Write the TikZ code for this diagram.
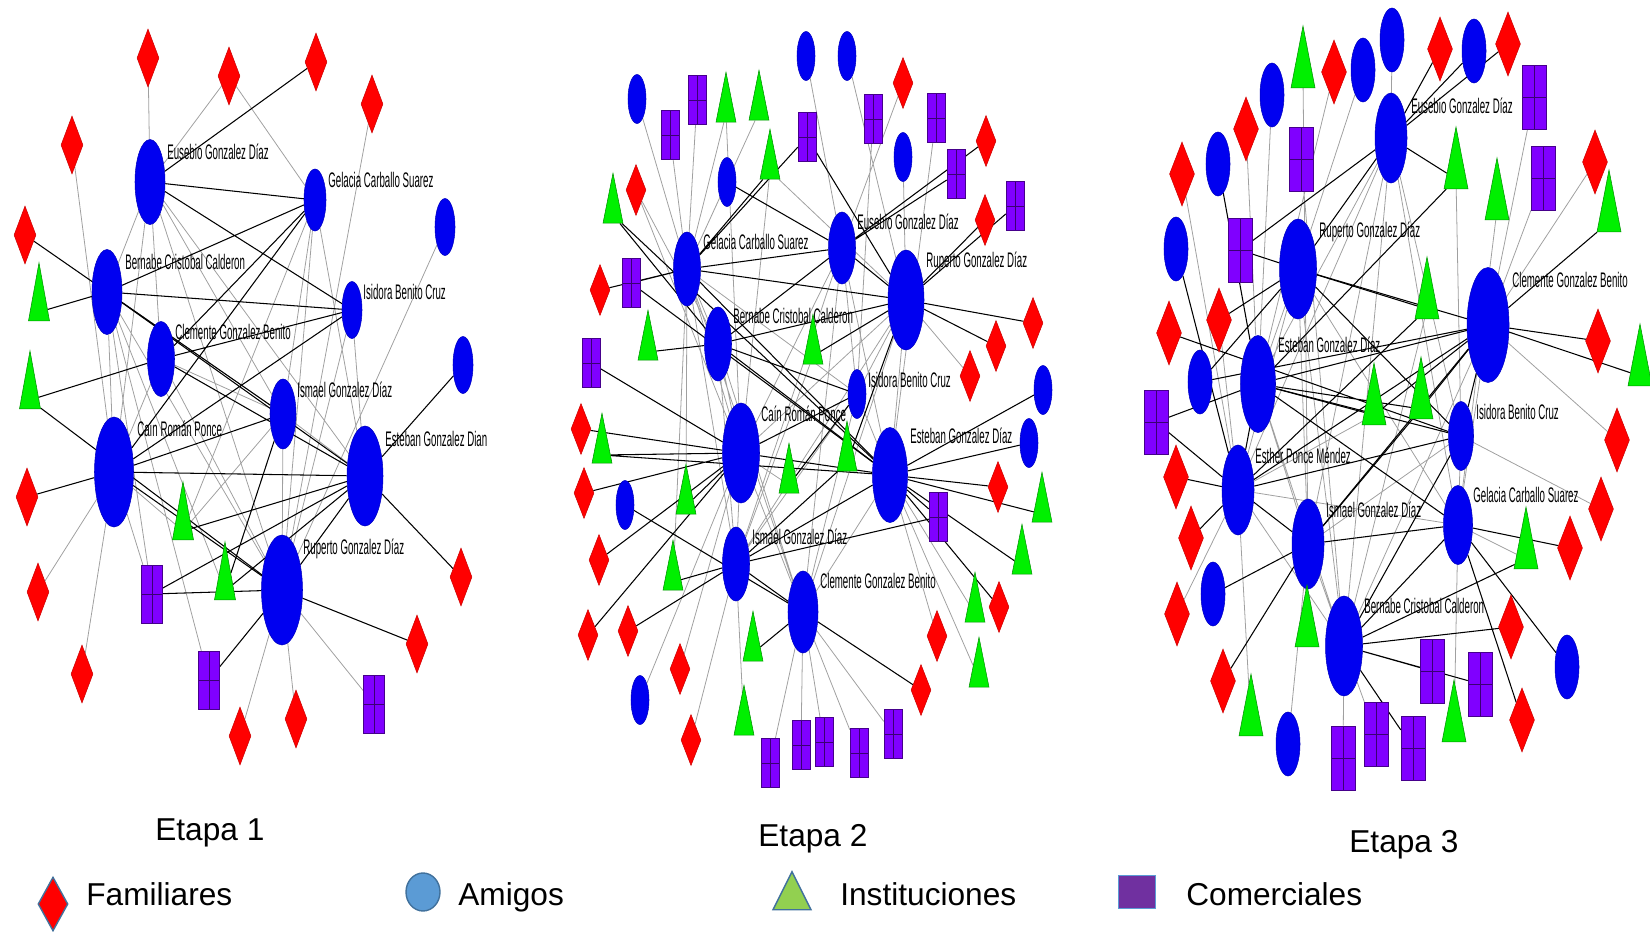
\documentclass[tikz,border=0pt]{standalone}
\usepackage{fontspec}
\setmainfont{Liberation Sans}
\newfontfamily\namefont[FakeStretch=0.46]{Liberation Sans}
\usetikzlibrary{shapes.geometric,backgrounds}

\definecolor{famred}{RGB}{255,0,0}
\definecolor{amiblue}{RGB}{0,0,240}
\definecolor{insgreen}{RGB}{0,240,0}
\definecolor{compurple}{RGB}{128,0,255}
\definecolor{edgegray}{RGB}{160,160,160}
\definecolor{lgblue}{RGB}{91,155,213}
\definecolor{lgedge}{RGB}{65,113,156}
\definecolor{lggreen}{RGB}{146,208,80}
\definecolor{lgpurple}{RGB}{112,48,160}

\tikzset{
  wh/.style 2 args={minimum width=#1*0.2mm, minimum height=#2*0.2mm},
  ami/.style={ellipse, fill=amiblue, draw=amiblue!80!black, line width=0.3pt, inner sep=0pt},
  fam/.style={diamond, fill=famred, draw=famred!80!black, line width=0.3pt, inner sep=0pt},
  ins/.style={isosceles triangle, isosceles triangle stretches, shape border rotate=90,
    fill=insgreen, draw=insgreen!60!black, line width=0.3pt, inner sep=0pt},
  com/.style={rectangle, fill=compurple, draw=compurple!55!black, line width=0.3pt, inner sep=0pt,
    path picture={\draw[compurple!45!black, line width=0.4pt]
      (path picture bounding box.north) -- (path picture bounding box.south)
      (path picture bounding box.west) -- (path picture bounding box.east);}},
  who/.style={anchor=base west, inner sep=0pt, font=\namefont\fontsize{12}{12}\selectfont},
  etapa/.style={anchor=base west, inner sep=0pt, font=\fontsize{18}{18}\selectfont},
  blk/.style={black, line width=0.6pt},
  gry/.style={edgegray, line width=0.45pt},
}

\begin{document}
\begin{tikzpicture}[x=0.2mm, y=-0.2mm]
\useasboundingbox (0,0) rectangle (1650,932);

% Etapa 1
\begin{scope}[fam/.append style={wh={22}{58}}, ins/.append style={wh={21}{58}}, com/.append style={wh={21}{58}}]
\node[ami, wh={30}{85}] (aEus) at (150,182) {};
\node[ami, wh={22}{62}] (aGel) at (315,200) {};
\node[ami, wh={30}{85}] (aBer) at (107,292) {};
\node[ami, wh={20}{57}] (aIsi) at (352,310) {};
\node[ami, wh={27}{75}] (aCle) at (161,359) {};
\node[ami, wh={26}{70}] (aIsm) at (283,414) {};
\node[ami, wh={39}{110}] (aCai) at (114,472) {};
\node[ami, wh={36}{100}] (aEst) at (365,476) {};
\node[ami, wh={41}{110}] (aRup) at (282,590) {};
\node[ami, wh={20}{57}] (aA1) at (445,227) {};
\node[ami, wh={20}{57}] (aA2) at (463,365) {};
\node[who] (aEusN) at (167,159) {Eusebio Gonzalez Díaz};
\node[who] (aGelN) at (328,187) {Gelacia Carballo Suarez};
\node[who] (aBerN) at (125,269) {Bernabe Cristobal Calderon};
\node[who] (aIsiN) at (363,299) {Isidora Benito Cruz};
\node[who] (aCleN) at (175,339) {Clemente Gonzalez Benito};
\node[who] (aIsmN) at (297,397) {Ismael Gonzalez Díaz};
\node[who] (aCaiN) at (137,436) {Caín Román Ponce};
\node[who] (aEstN) at (385,446) {Esteban Gonzalez Dian};
\node[who] (aRupN) at (303,554) {Ruperto Gonzalez Díaz};
\node[fam] (aF1) at (148,58) {};
\node[fam] (aF2) at (229,76) {};
\node[fam] (aF3) at (316,62) {};
\node[fam] (aF4) at (372,104) {};
\node[fam] (aF5) at (72,145) {};
\node[fam] (aF6) at (25,235) {};
\node[fam] (aF7) at (27,497) {};
\node[fam] (aF8) at (38,592) {};
\node[fam] (aF9) at (82,674) {};
\node[fam] (aF10) at (240,736) {};
\node[fam] (aF11) at (296,719) {};
\node[fam] (aF12) at (417,644) {};
\node[fam] (aF13) at (461,577) {};
\node[ins] (aT1) at (39,312) {};
\node[ins] (aT2) at (30,400) {};
\node[ins] (aT3) at (183,531) {};
\node[ins] (aT4) at (225,591) {};
\node[com] (aC1) at (152,594) {};
\node[com] (aC2) at (209,680) {};
\node[com] (aC3) at (374,704) {};
\begin{scope}[on background layer]
\draw[gry] (aEus) -- (aF1) (aF2) -- (aGel) (aF2) -- (aEus) (aF4) -- (aRup) (aF5) -- (aCai)
  (aF8) -- (aCai) (aF9) -- (aCai) (aF10) -- (aRup) (aF11) -- (aRup) (aC3) -- (aRup)
  (aC2) -- (aBer) (aC1) -- (aCai) (aC1) -- (aBer) (aT3) -- (aCai) (aT3) -- (aIsm)
  (aT3) -- (aGel) (aT4) -- (aBer) (aA1) -- (aRup);
\draw[gry] (aEus) -- (aBer) (aEus) -- (aCle) (aEus) -- (aCai) (aEus) -- (aIsm) (aEus) -- (aEst)
  (aEus) -- (aRup) (aGel) -- (aIsm) (aGel) -- (aEst) (aGel) -- (aRup) (aBer) -- (aCai)
  (aBer) -- (aRup) (aBer) -- (aIsm) (aIsi) -- (aEst) (aIsi) -- (aRup) (aCle) -- (aIsm)
  (aCle) -- (aRup) (aCle) -- (aCai) (aIsm) -- (aEst) (aIsm) -- (aRup);
\draw[blk] (aF3) -- (aEus) (aF6) -- (aIsm) (aT1) -- (aBer) (aT2) -- (aCle) (aT2) -- (aRup)
  (aF7) -- (aCai) (aF12) -- (aRup) (aF13) -- (aEst) (aC2) -- (aRup) (aC1) -- (aRup)
  (aC1) -- (aEst) (aT3) -- (aEst) (aT4) -- (aEst) (aT4) -- (aIsm) (aA2) -- (aEst);
\draw[blk] (aEus) -- (aGel) (aEus) -- (aIsi) (aGel) -- (aBer) (aGel) -- (aCle) (aGel) -- (aCai)
  (aBer) -- (aIsi) (aBer) -- (aEst) (aIsi) -- (aCai) (aIsi) -- (aCle) (aCle) -- (aEst)
  (aCai) -- (aIsm) (aCai) -- (aEst) (aCai) -- (aRup) (aEst) -- (aRup);
\end{scope}
\end{scope}

% Etapa 2
\begin{scope}[fam/.append style={wh={20}{51}}, ins/.append style={wh={20}{50}}, com/.append style={wh={18}{49}}]
\node[ami, wh={27}{74}] (bGel) at (687,269) {};
\node[ami, wh={27}{72}] (bEus) at (842,248) {};
\node[ami, wh={36}{100}] (bRup) at (906,300) {};
\node[ami, wh={27}{74}] (bBer) at (718,344) {};
\node[ami, wh={18}{49}] (bIsi) at (857,394) {};
\node[ami, wh={37}{100}] (bCai) at (741,453) {};
\node[ami, wh={35}{95}] (bEst) at (890,475) {};
\node[ami, wh={27}{74}] (bIsm) at (736,564) {};
\node[ami, wh={30}{82}] (bCle) at (803,612) {};
\node[who] (bGelN) at (703,249) {Gelacia Carballo Suarez};
\node[who] (bEusN) at (857,229) {Eusebio Gonzalez Díaz};
\node[who] (bRupN) at (926,267) {Ruperto Gonzalez Díaz};
\node[who] (bBerN) at (733,323) {Bernabe Cristobal Calderon};
\node[who] (bIsiN) at (868,387) {Isidora Benito Cruz};
\node[who] (bCaiN) at (761,421) {Caín Román Ponce};
\node[who] (bEstN) at (910,443) {Esteban Gonzalez Díaz};
\node[who] (bIsmN) at (752,544) {Ismael Gonzalez Díaz};
\node[who] (bCleN) at (820,588) {Clemente Gonzalez Benito};
\node[ami, wh={18}{49}] (bA1) at (637,99) {};
\node[ami, wh={18}{49}] (bA2) at (806,56) {};
\node[ami, wh={18}{49}] (bA3) at (847,56) {};
\node[ami, wh={18}{49}] (bA4) at (727,182) {};
\node[ami, wh={18}{49}] (bA5) at (903,157) {};
\node[ami, wh={18}{49}] (bA6) at (1043,390) {};
\node[ami, wh={18}{49}] (bA7) at (1029,443) {};
\node[ami, wh={18}{49}] (bA8) at (625,505) {};
\node[ami, wh={18}{49}] (bA9) at (640,700) {};
\node[fam] (bF1) at (903,83) {};
\node[fam] (bF2) at (986,141) {};
\node[fam] (bF3) at (985,220) {};
\node[fam] (bF4) at (636,190) {};
\node[fam] (bF5) at (600,290) {};
\node[fam] (bF6) at (1033,323) {};
\node[fam] (bF7) at (996,346) {};
\node[fam] (bF8) at (970,376) {};
\node[fam] (bF9) at (581,429) {};
\node[fam] (bF10) at (584,493) {};
\node[fam] (bF11) at (998,487) {};
\node[fam] (bF12) at (599,560) {};
\node[fam] (bF13) at (588,635) {};
\node[fam] (bF14) at (628,631) {};
\node[fam] (bF15) at (999,607) {};
\node[fam] (bF16) at (937,636) {};
\node[fam] (bF17) at (680,669) {};
\node[fam] (bF18) at (921,690) {};
\node[fam] (bF19) at (691,740) {};
\node[ins] (bT1) at (726,114) {};
\node[ins] (bT2) at (759,112) {};
\node[ins] (bT3) at (613,215) {};
\node[ins] (bT4) at (770,171) {};
\node[ins] (bT5) at (648,352) {};
\node[ins] (bT6) at (813,356) {};
\node[ins] (bT7) at (602,455) {};
\node[ins] (bT8) at (789,485) {};
\node[ins] (bT9) at (847,463) {};
\node[ins] (bT10) at (686,506) {};
\node[ins] (bT11) at (673,582) {};
\node[ins] (bT12) at (753,653) {};
\node[ins] (bT13) at (1042,514) {};
\node[ins] (bT14) at (1022,566) {};
\node[ins] (bT15) at (975,614) {};
\node[ins] (bT16) at (979,679) {};
\node[ins] (bT17) at (744,727) {};
\node[com] (bC1) at (697,100) {};
\node[com] (bC2) at (670,135) {};
\node[com] (bC3) at (807,137) {};
\node[com] (bC4) at (873,119) {};
\node[com] (bC5) at (936,118) {};
\node[com] (bC6) at (956,174) {};
\node[com] (bC7) at (1015,206) {};
\node[com] (bC8) at (631,283) {};
\node[com] (bC9) at (591,363) {};
\node[com] (bC10) at (938,517) {};
\node[com] (bC11) at (770,763) {};
\node[com] (bC12) at (801,745) {};
\node[com] (bC13) at (824,742) {};
\node[com] (bC14) at (859,753) {};
\node[com] (bC15) at (893,734) {};
\begin{scope}[on background layer]
\draw[gry] (bA1) -- (bGel) (bA2) -- (bEus) (bA3) -- (bRup) (bA4) -- (bGel) (bA5) -- (bRup)
  (bA9) -- (bCai) (bF1) -- (bEus) (bF4) -- (bBer) (bF4) -- (bCai) (bF8) -- (bRup)
  (bF16) -- (bEst) (bF17) -- (bCai) (bF19) -- (bIsm) (bT1) -- (bGel) (bT1) -- (bCai)
  (bT2) -- (bGel) (bT4) -- (bRup) (bT4) -- (bCai) (bT6) -- (bIsm) (bT8) -- (bCai)
  (bT10) -- (bGel) (bT11) -- (bGel) (bT15) -- (bEst) (bT16) -- (bEst) (bT17) -- (bIsm)
  (bC1) -- (bGel) (bC2) -- (bGel) (bC4) -- (bIsi) (bC5) -- (bEst) (bC11) -- (bCle)
  (bC12) -- (bCle) (bC13) -- (bCle) (bC14) -- (bCle) (bC15) -- (bCle);
\draw[gry] (bGel) -- (bBer) (bGel) -- (bCai) (bGel) -- (bIsm) (bGel) -- (bIsi) (bGel) -- (bCle)
  (bEus) -- (bCai) (bEus) -- (bIsi) (bEus) -- (bEst) (bEus) -- (bIsm) (bEus) -- (bCle)
  (bRup) -- (bCai) (bRup) -- (bIsi) (bRup) -- (bEst) (bRup) -- (bIsm) (bRup) -- (bCle)
  (bBer) -- (bCai) (bBer) -- (bIsm) (bBer) -- (bCle) (bIsi) -- (bEst) (bIsi) -- (bIsm)
  (bIsi) -- (bCle) (bCai) -- (bIsm) (bCai) -- (bCle) (bEst) -- (bCle);
\draw[blk] (bA4) -- (bEus) (bA6) -- (bEst) (bA7) -- (bEst) (bA8) -- (bCle) (bF2) -- (bEus)
  (bF3) -- (bRup) (bF5) -- (bGel) (bF6) -- (bRup) (bF7) -- (bRup) (bF9) -- (bCai)
  (bF10) -- (bCai) (bF11) -- (bEst) (bF12) -- (bCai) (bF13) -- (bCai) (bF14) -- (bIsm)
  (bF15) -- (bEst) (bF18) -- (bCle) (bT3) -- (bBer) (bT3) -- (bEst) (bT4) -- (bGel)
  (bT5) -- (bBer) (bT6) -- (bRup) (bT7) -- (bCai) (bT7) -- (bEst) (bT8) -- (bIsi)
  (bT9) -- (bIsm) (bT9) -- (bRup) (bT10) -- (bCai) (bT11) -- (bIsm) (bT12) -- (bCle)
  (bT13) -- (bEst) (bT14) -- (bEst) (bC3) -- (bGel) (bC3) -- (bRup) (bC6) -- (bEus)
  (bC7) -- (bRup) (bC8) -- (bGel) (bC8) -- (bEst) (bC9) -- (bCai) (bC10) -- (bIsm)
  (bC10) -- (bEst);
\draw[blk] (bGel) -- (bEus) (bGel) -- (bRup) (bGel) -- (bEst) (bEus) -- (bRup) (bEus) -- (bBer)
  (bRup) -- (bBer) (bBer) -- (bIsi) (bBer) -- (bEst) (bIsi) -- (bCai) (bCai) -- (bEst)
  (bEst) -- (bIsm) (bIsm) -- (bCle);
\end{scope}
\end{scope}

% Etapa 3
\begin{scope}[fam/.append style={wh={25}{64}}, ins/.append style={wh={24}{62}}, com/.append style={wh={24}{64}}]
\node[ami, wh={32}{90}] (cEus) at (1391,138) {};
\node[ami, wh={37}{100}] (cRup) at (1298,269) {};
\node[ami, wh={42}{115}] (cCle) at (1488,325) {};
\node[ami, wh={35}{97}] (cEst) at (1258,384) {};
\node[ami, wh={25}{69}] (cIsi) at (1461,436) {};
\node[ami, wh={32}{90}] (cEsh) at (1238,490) {};
\node[ami, wh={32}{90}] (cIsm) at (1308,544) {};
\node[ami, wh={29}{79}] (cGel) at (1458,525) {};
\node[ami, wh={37}{100}] (cBer) at (1344,646) {};
\node[who] (cEusN) at (1411,113) {Eusebio Gonzalez Díaz};
\node[who] (cRupN) at (1319,237) {Ruperto Gonzalez Díaz};
\node[who] (cCleN) at (1512,287) {Clemente Gonzalez Benito};
\node[who] (cEstN) at (1278,352) {Esteban Gonzalez Díaz};
\node[who] (cIsiN) at (1476,419) {Isidora Benito Cruz};
\node[who] (cEshN) at (1255,463) {Esther Ponce Méndez};
\node[who] (cIsmN) at (1326,517) {Ismael Gonzalez Díaz};
\node[who] (cGelN) at (1473,502) {Gelacia Carballo Suarez};
\node[who] (cBerN) at (1364,613) {Bernabe Cristobal Calderon};
\node[ami, wh={24}{64}] (cA1) at (1392,40) {};
\node[ami, wh={24}{64}] (cA2) at (1474,51) {};
\node[ami, wh={24}{64}] (cA3) at (1363,70) {};
\node[ami, wh={24}{64}] (cA4) at (1272,95) {};
\node[ami, wh={24}{64}] (cA5) at (1218,164) {};
\node[ami, wh={24}{64}] (cA6) at (1176,249) {};
\node[ami, wh={24}{64}] (cA7) at (1200,382) {};
\node[ami, wh={24}{64}] (cA8) at (1213,594) {};
\node[ami, wh={24}{64}] (cA9) at (1288,744) {};
\node[ami, wh={24}{64}] (cA10) at (1567,667) {};
\node[fam] (cF1) at (1440,49) {};
\node[fam] (cF2) at (1508,44) {};
\node[fam] (cF3) at (1334,72) {};
\node[fam] (cF4) at (1246,129) {};
\node[fam] (cF5) at (1182,174) {};
\node[fam] (cF6) at (1595,162) {};
\node[fam] (cF7) at (1219,320) {};
\node[fam] (cF8) at (1169,333) {};
\node[fam] (cF9) at (1598,341) {};
\node[fam] (cF10) at (1617,440) {};
\node[fam] (cF11) at (1176,477) {};
\node[fam] (cF12) at (1191,538) {};
\node[fam] (cF13) at (1601,509) {};
\node[fam] (cF14) at (1570,548) {};
\node[fam] (cF15) at (1177,614) {};
\node[fam] (cF16) at (1223,681) {};
\node[fam] (cF17) at (1511,627) {};
\node[fam] (cF18) at (1522,720) {};
\node[ins] (cT1) at (1303,78) {};
\node[ins] (cT2) at (1456,179) {};
\node[ins] (cT3) at (1497,210) {};
\node[ins] (cT4) at (1609,222) {};
\node[ins] (cT5) at (1427,309) {};
\node[ins] (cT6) at (1640,376) {};
\node[ins] (cT7) at (1374,415) {};
\node[ins] (cT8) at (1421,409) {};
\node[ins] (cT9) at (1526,559) {};
\node[ins] (cT10) at (1307,637) {};
\node[ins] (cT11) at (1251,726) {};
\node[ins] (cT12) at (1454,732) {};
\node[com] (cC1) at (1534,97) {};
\node[com] (cC2) at (1301,159) {};
\node[com] (cC3) at (1543,178) {};
\node[com] (cC4) at (1240,250) {};
\node[com] (cC5) at (1156,422) {};
\node[com] (cC6) at (1432,671) {};
\node[com] (cC7) at (1480,684) {};
\node[com] (cC8) at (1376,734) {};
\node[com] (cC9) at (1413,748) {};
\node[com] (cC10) at (1343,758) {};
\begin{scope}[on background layer]
\draw[gry] (cA1) -- (cEus) (cA3) -- (cRup) (cA4) -- (cEst) (cA9) -- (cIsm) (cF3) -- (cEst)
  (cF4) -- (cEst) (cF5) -- (cEsh) (cF6) -- (cCle) (cF7) -- (cEsh) (cF10) -- (cCle)
  (cF13) -- (cIsi) (cF15) -- (cEsh) (cT1) -- (cIsm) (cT2) -- (cIsi) (cT3) -- (cGel)
  (cT5) -- (cBer) (cT7) -- (cEsh) (cT9) -- (cGel) (cT10) -- (cIsm) (cT11) -- (cEsh)
  (cT12) -- (cGel) (cC1) -- (cCle) (cC2) -- (cBer) (cC3) -- (cCle) (cC8) -- (cBer)
  (cC10) -- (cBer);
\draw[gry] (cEus) -- (cEst) (cEus) -- (cEsh) (cEus) -- (cIsm) (cEus) -- (cBer) (cEus) -- (cIsi)
  (cEus) -- (cGel) (cRup) -- (cEst) (cRup) -- (cEsh) (cRup) -- (cIsm) (cRup) -- (cBer)
  (cRup) -- (cGel) (cCle) -- (cBer) (cCle) -- (cGel) (cEst) -- (cIsm) (cEst) -- (cBer)
  (cEsh) -- (cBer) (cEsh) -- (cGel) (cIsm) -- (cBer) (cIsm) -- (cIsi) (cIsi) -- (cGel);
\draw[blk] (cA2) -- (cEus) (cA5) -- (cEst) (cA6) -- (cEsh) (cA7) -- (cRup) (cA7) -- (cCle)
  (cA8) -- (cIsm) (cA10) -- (cGel) (cF1) -- (cEus) (cF2) -- (cEus) (cF7) -- (cRup)
  (cF8) -- (cIsi) (cF9) -- (cCle) (cF11) -- (cEsh) (cF12) -- (cEsh) (cF14) -- (cGel)
  (cF16) -- (cIsm) (cF17) -- (cBer) (cF18) -- (cGel) (cT2) -- (cEus) (cT2) -- (cEst)
  (cT4) -- (cCle) (cT5) -- (cRup) (cT5) -- (cEsh) (cT6) -- (cCle) (cT7) -- (cCle)
  (cT7) -- (cEst) (cT8) -- (cCle) (cT8) -- (cEst) (cT8) -- (cIsm) (cT9) -- (cBer)
  (cC4) -- (cRup) (cC4) -- (cEus) (cC5) -- (cEst) (cC5) -- (cEsh) (cC6) -- (cBer)
  (cC7) -- (cBer) (cC9) -- (cBer);
\draw[blk] (cEus) -- (cRup) (cRup) -- (cCle) (cRup) -- (cIsi) (cEst) -- (cCle) (cEst) -- (cIsi)
  (cEst) -- (cGel) (cEst) -- (cEsh) (cEsh) -- (cCle) (cEsh) -- (cIsi) (cEsh) -- (cIsm)
  (cIsm) -- (cGel) (cIsm) -- (cCle) (cIsi) -- (cCle) (cBer) -- (cGel) (cBer) -- (cIsi);
\end{scope}
\end{scope}

% stages and key
\node[etapa] (et1) at (155,840) {Etapa 1};
\node[etapa] (et2) at (758,846) {Etapa 2};
\node[etapa] (et3) at (1349,852) {Etapa 3};
\node[fam, wh={30}{54}, draw=lgedge, line width=0.8pt] (keyFam) at (53,904) {};
\node[etapa] (keyFamT) at (86,905) {Familiares};
\node[ami, wh={34}{38}, fill=lgblue, draw=lgedge, line width=0.8pt] (keyAmi) at (423,892) {};
\node[etapa] (keyAmiT) at (458,905) {Amigos};
\node[ins, wh={38}{38}, fill=lggreen, draw=lgedge, line width=0.8pt] (keyIns) at (792,898) {};
\node[etapa] (keyInsT) at (840,905) {Instituciones};
\node[rectangle, inner sep=0pt, wh={37}{33}, fill=lgpurple, draw=lgblue, line width=0.8pt] (keyCom) at (1137,892) {};
\node[etapa] (keyComT) at (1186,905) {Comerciales};
\end{tikzpicture}
\end{document}
